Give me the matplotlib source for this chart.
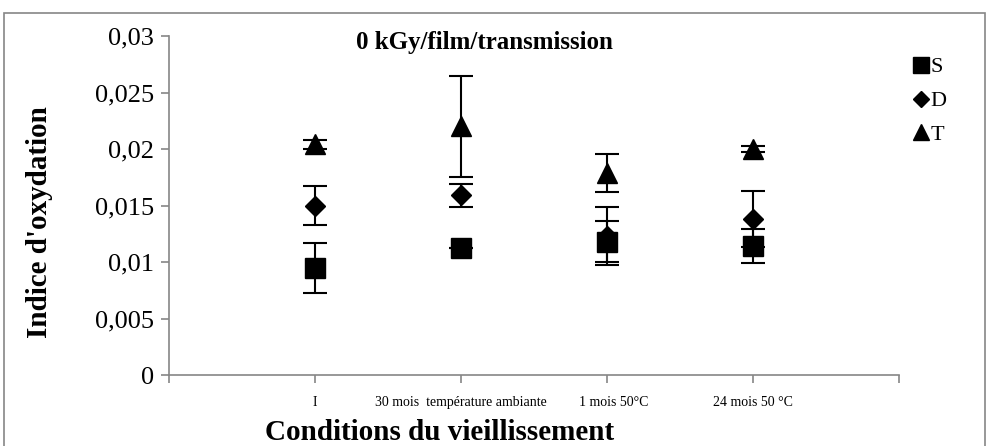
import matplotlib.pyplot as plt
from matplotlib.lines import Line2D
from matplotlib.patches import Rectangle

plt.rcParams['font.family'] = ['Liberation Serif', 'DejaVu Serif']

# Data
conditions = ['I', '30 mois  température ambiante', '    1 mois 50°C', '24 mois 50 °C']
S_vals = [0.0095, 0.0112, 0.0118, 0.0114]
S_err = [0.0022, 0.0, 0.0018, 0.0015]
D_vals = [0.0150, 0.0159, 0.0123, 0.0138]
D_err = [0.0017, 0.0010, 0.0026, 0.0025]
T_vals = [0.0204, 0.0220, 0.0179, 0.0200]
T_err = [0.0004, 0.0045, 0.0017, 0.0003]

x = list(range(1, len(conditions) + 1))
axis_grey = '#868686'

fig = plt.figure(figsize=(9.9, 4.46), dpi=100)
ax = fig.add_axes([169 / 990, 1 - 375 / 446, 730 / 990, 339 / 446])

series = [('S', S_vals, S_err, 's', 14), ('D', D_vals, D_err, 'D', 10.5), ('T', T_vals, T_err, '^', 14.5)]
for name, vals, err, mk, ms in series:
    # error bars below, markers on top (as in Excel)
    ax.errorbar(x, vals, yerr=err, fmt='none', ecolor='black', elinewidth=1.5,
                capsize=8.5, capthick=1.5, zorder=1)
for name, vals, err, mk, ms in series:
    ax.plot(x, vals, linestyle='none', marker=mk, markersize=ms, color='black', zorder=5, label=name)

ax.set_xlim(0, len(conditions) + 1)
ax.set_ylim(0, 0.03)
ax.set_yticks([0, 0.005, 0.01, 0.015, 0.02, 0.025, 0.03])
ax.set_yticklabels(['0', '0,005', '0,01', '0,015', '0,02', '0,025', '0,03'], fontsize=19)
ax.set_xticks(range(0, len(conditions) + 2))
ax.set_xticklabels([])
for xi, lab in zip(x, conditions):
    ax.text(xi, -0.0019, lab, ha='center', va='top', fontsize=10)

for side in ['top', 'right']:
    ax.spines[side].set_visible(False)
for side in ['left', 'bottom']:
    ax.spines[side].set_color(axis_grey)
    ax.spines[side].set_linewidth(1.2)
ax.tick_params(axis='both', colors=axis_grey, length=6, width=1.2, direction='out')
ax.tick_params(axis='y', labelcolor='black', pad=5)

fig.text(484 / 990, 1 - 42 / 446, '0 kGy/film/transmission', ha='center', va='center',
         fontsize=18, fontweight='bold')
fig.text(40 / 990, 1 - 222 / 446, "Indice d'oxydation", ha='center', va='center',
         rotation=90, fontsize=21, fontweight='bold')
fig.text(440 / 990, 1 - 433 / 446, 'Conditions du vieillissement', ha='center', va='center',
         fontsize=21, fontweight='bold')

handles = [Line2D([], [], marker='s', color='black', linestyle='none', markersize=11),
           Line2D([], [], marker='D', color='black', linestyle='none', markersize=8),
           Line2D([], [], marker='^', color='black', linestyle='none', markersize=11)]
fig.legend(handles, ['S', 'D', 'T'], loc='upper left', bbox_to_anchor=(905 / 990, 1 - 48 / 446),
           frameon=False, fontsize=16, handlelength=0.6, handletextpad=0.15, labelspacing=0.6,
           borderaxespad=0)

fig.add_artist(Rectangle((4 / 990, -0.05), 981 / 990, 1.05 - 13 / 446, transform=fig.transFigure,
                         fill=False, edgecolor=axis_grey, linewidth=1.2))

fig.savefig('out.png', dpi=100)
